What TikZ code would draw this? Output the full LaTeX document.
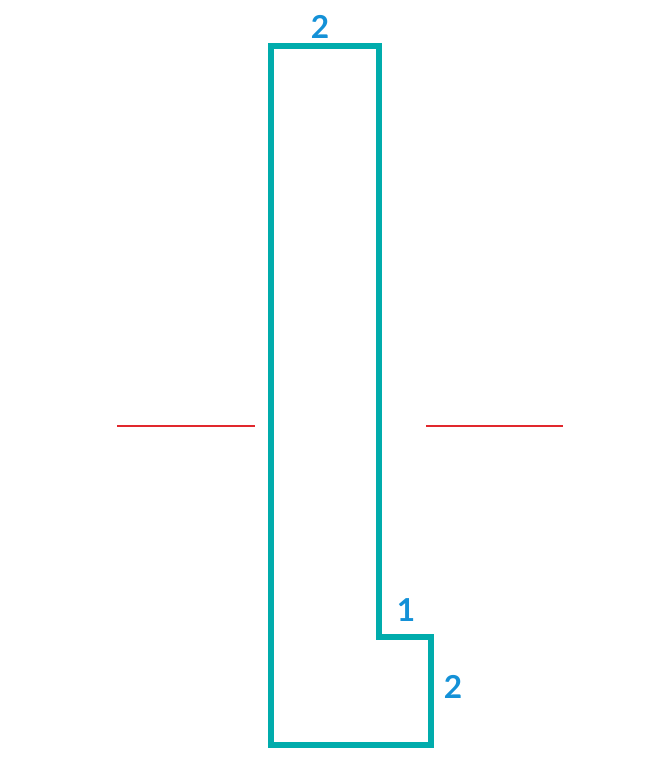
\documentclass[tikz,border=0pt]{standalone}
\usepackage{fontspec}
\setmainfont{Lato}
\usepackage{xcolor}
\definecolor{teal}{RGB}{0,172,172}
\definecolor{numblue}{RGB}{20,145,215}
\definecolor{markred}{RGB}{225,40,45}

\begin{document}
\begin{tikzpicture}[x=0.02cm, y=-0.02cm,
  every node/.style={text=numblue, font=\fontsize{18}{20}\selectfont\bfseries, inner sep=0pt},
  outline/.style={draw=teal, line width=3.3pt, line join=miter},
  mark line/.style={draw=markred, line width=1.4pt}]
\useasboundingbox (0,0) rectangle (669,768);
% Points
\coordinate (tl) at (271,46);
\coordinate (tr) at (379,46);
\coordinate (sl) at (379,637);
\coordinate (sr) at (431,637);
\coordinate (br) at (431,745);
\coordinate (bl) at (271,745);
\coordinate (ra) at (117,426);
\coordinate (rb) at (255,426);
\coordinate (rc) at (426,426);
\coordinate (rd) at (563,426);

% Labels
\node (top) at (320,27) {2};
\node (step) at (406,610) {1};
\node (side) at (453,687) {2};

%Lines
\draw[outline] (tl) -- (tr) -- (sl) -- (sr) -- (br) -- (bl) -- cycle;
\draw[mark line] (ra) -- (rb);
\draw[mark line] (rc) -- (rd);
\end{tikzpicture}
\end{document}
